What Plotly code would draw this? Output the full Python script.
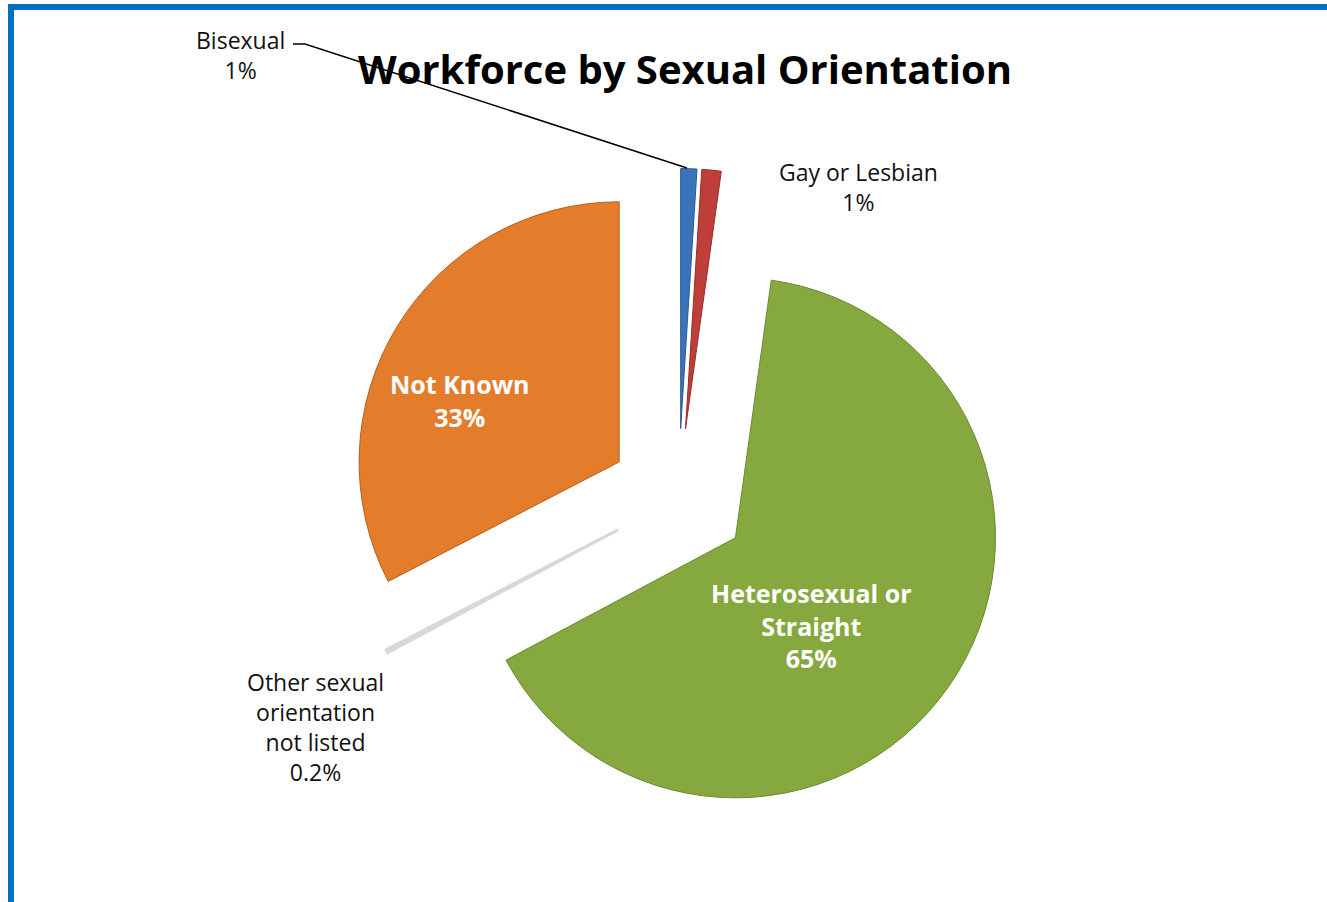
import plotly.graph_objects as go

categories = ["Bisexual", "Gay or Lesbian", "Heterosexual or Straight",
              "Other sexual orientation not listed", "Not Known"]
display_names = ["Bisexual", "Gay or Lesbian", "Heterosexual or<br>Straight",
                 "Other sexual<br>orientation<br>not listed", "Not Known"]
values = [1.0, 1.2, 65.0, 0.2, 32.6]
pct_labels = ["1%", "1%", "65%", "0.2%", "33%"]
colors = ["#3B73B9", "#BE3E3A", "#85A83F", "#D2D2D2", "#E47D2B"]
edge_colors = ["#2C5A94", "#962E2B", "#6B8A30", "#D8D8D8", "#B65F1C"]
edge_widths = [1, 1, 1, 3, 1]

W, H = 1327, 902
FONT = "Open Sans"

fig = go.Figure(go.Pie(
    labels=categories,
    values=values,
    textinfo="none",
    sort=False,
    direction="clockwise",
    rotation=0,
    pull=[0.267] * 5,
    marker=dict(colors=colors, line=dict(width=edge_widths, color=edge_colors)),
    domain=dict(x=[349 / W, 1008 / W], y=[(H - 828) / H, (H - 168) / H]),
    showlegend=False,
    hoverinfo="label+percent",
))

def px(x, y):
    return x / W, 1 - y / H

annotations = []
# labels: (index, centre in px, inside label?)
label_pos = [(0, (240, 55), False), (1, (858, 187), False), (3, (315, 727), False),
             (4, (460, 400), True), (2, (811, 625), True)]
for i, (cx, cy), ins in label_pos:
    ax, ay = px(cx, cy)
    txt = f"{display_names[i]}<br>{pct_labels[i]}"
    if ins:
        txt = f"<b>{txt}</b>"
    annotations.append(dict(
        x=ax, y=ay, xref="paper", yref="paper", showarrow=False,
        text=txt,
        font=dict(family=FONT, size=25 if ins else 23, color="white" if ins else "#111111"),
        xanchor="center", yanchor="middle", align="center"))

tx, ty = px(685, 68)
annotations.append(dict(
    x=tx, y=ty, xref="paper", yref="paper", showarrow=False,
    text="<b>Workforce by Sexual Orientation</b>",
    font=dict(family=FONT, size=40, color="black"),
    xanchor="center", yanchor="middle"))

shapes = []
# chart frame
shapes.append(dict(type="rect", xref="paper", yref="paper",
                   x0=11 / W, x1=1.02, y0=-0.02, y1=1 - 7 / H,
                   line=dict(color="#0070C0", width=6), fillcolor="rgba(0,0,0,0)",
                   layer="above"))
# leader line for Bisexual
p1, p2, p3 = px(293, 44), px(305, 44), px(687, 168)
shapes.append(dict(type="path", xref="paper", yref="paper",
                   path=f"M {p1[0]},{p1[1]} L {p2[0]},{p2[1]} L {p3[0]},{p3[1]}",
                   line=dict(color="black", width=1.5)))

fig.update_layout(
    width=W, height=H,
    margin=dict(l=0, r=0, t=0, b=0),
    paper_bgcolor="white",
    plot_bgcolor="white",
    annotations=annotations,
    shapes=shapes,
)

fig.write_html("out.html", config={"displayModeBar": False},
               post_script="document.body.style.margin='0px';")
